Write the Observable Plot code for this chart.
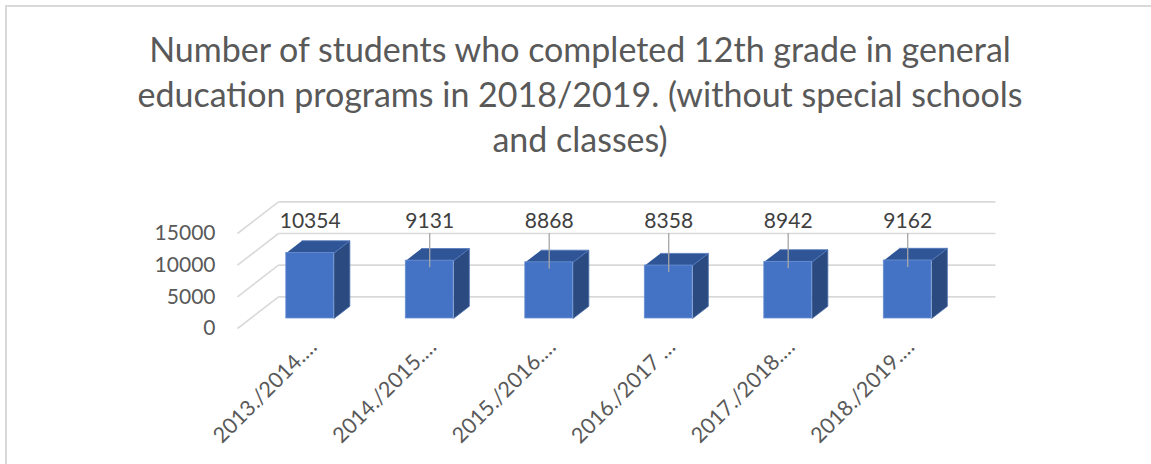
<!DOCTYPE html>
<html>
<head>
<meta charset="utf-8">
<script src="https://cdn.jsdelivr.net/npm/d3@7"></script>
<script src="https://cdn.jsdelivr.net/npm/@observablehq/plot@0.6"></script>
<style>
  html, body { margin: 0; padding: 0; background: #fff; }
  #wrap { position: relative; width: 1151px; height: 464px; overflow: hidden; background: #fff; }
  #frame { position: absolute; left: 5px; top: 5px; width: 1200px; height: 600px;
           border-top: 2px solid #d9d9d9; border-left: 2px solid #d9d9d9; box-sizing: border-box; }
  #title { position: relative; height: 170px; box-sizing: border-box; padding-top: 26px;
           margin-left: 5px; width: 1150px; text-align: center;
           font-family: Lato, "Open Sans", sans-serif; font-size: 34px; line-height: 45px; color: #595959; }
  #plot { position: relative; }
</style>
</head>
<body>
<div id="wrap">
  <div id="frame"></div>
  <div id="title">Number of students who completed 12th grade in general<br>education programs in 2018/2019. (without special schools<br>and classes)</div>
  <div id="plot"></div>
</div>
<script>
// ---- data ----
const categories = ["2013./2014.…", "2014./2015.…", "2015./2016.…", "2016./2017 …", "2017./2018.…", "2018./2019.…"];
const values = [10354, 9131, 8868, 8358, 8942, 9162];
const yTicks = [0, 5000, 10000, 15000];

// ---- oblique 3D projection parameters (style) ----
const DX = 0.343;   // full wall depth, in category units
const DY = 5000;    // full wall depth, in value units
const Z0 = 0.316;   // bar front depth
const Z1 = 0.70;    // bar back depth
const HW = 0.2;     // bar half width (category units)

const rows = categories.map((c, i) => ({i, c, v: values[i]}));
const P = (x, y, z) => ({x: x + z * DX, y: y + z * DY});

const sidePts = rows.flatMap(d => [
  P(d.i + HW, 0, Z0), P(d.i + HW, 0, Z1), P(d.i + HW, d.v, Z1), P(d.i + HW, d.v, Z0)
].map(p => ({...p, id: d.i})));
const topPts = rows.flatMap(d => [
  P(d.i - HW, d.v, Z0), P(d.i + HW, d.v, Z0), P(d.i + HW, d.v, Z1), P(d.i - HW, d.v, Z1)
].map(p => ({...p, id: d.i})));

const ymax = yTicks[yTicks.length - 1];
const wallLinks = yTicks.map(t => ({x1: -0.5, y1: t, x2: -0.5 + DX, y2: t + DY}));
const backGrid = yTicks.map(t => ({x1: -0.5 + DX, x2: 5.5 + DX, y: t + DY}));

const chart = Plot.plot({
  width: 1151,
  height: 294,
  marginLeft: 237,
  marginRight: 197,
  marginTop: 63,
  marginBottom: 136,
  style: {fontFamily: "Lato, 'Open Sans', sans-serif", background: "transparent", overflow: "visible"},
  x: {type: "linear", domain: [-0.5, 5.5], axis: null},
  y: {domain: [0, ymax], axis: null},
  marks: [
    // walls
    Plot.link(wallLinks, {x1: "x1", y1: "y1", x2: "x2", y2: "y2", stroke: "#d9d9d9", strokeWidth: 1.6}),
    Plot.link(backGrid, {x1: "x1", x2: "x2", y1: "y", y2: "y", stroke: "#d9d9d9", strokeWidth: 1.6}),
    // y axis labels
    Plot.axisY({ticks: yTicks, tickSize: 0, tickPadding: 22, tickFormat: d => String(d),
                fontSize: 21, color: "#595959", label: null}),
    // bars: side, top, front
    Plot.line(sidePts, {x: "x", y: "y", z: "id", fill: "#2B4A80", stroke: "#4a6fb0", strokeWidth: 0.8, strokeLinejoin: "miter"}),
    Plot.line(topPts, {x: "x", y: "y", z: "id", fill: "#2F5597", stroke: "#5479bd", strokeWidth: 0.8, strokeLinejoin: "miter"}),
    Plot.rect(rows, {
      x1: d => d.i - HW + Z0 * DX, x2: d => d.i + HW + Z0 * DX,
      y1: Z0 * DY, y2: d => d.v + Z0 * DY,
      fill: "#4472C4", stroke: "#6a90d2", strokeWidth: 0.8
    }),
    // leader lines
    Plot.ruleX(rows.filter(d => d.i > 0), {
      x: d => d.i + Z0 * DX, y1: d => d.v + Z0 * DY, y2: ymax, insetTop: 7,
      stroke: "#a6a6a6", strokeWidth: 1.3
    }),
    // data labels
    Plot.text(rows, {x: d => d.i + Z0 * DX, y: ymax, text: d => String(d.v), dy: -12,
                     fontSize: 21, fill: "#404040", lineAnchor: "middle"}),
    // category labels
    Plot.text(rows, {x: "i", y: 0, text: "c", rotate: -45, textAnchor: "end", lineAnchor: "middle",
                     dx: 16, dy: 15, fontSize: 21.5, fill: "#595959"})
  ]
});
document.getElementById("plot").appendChild(chart);
</script>
</body>
</html>
